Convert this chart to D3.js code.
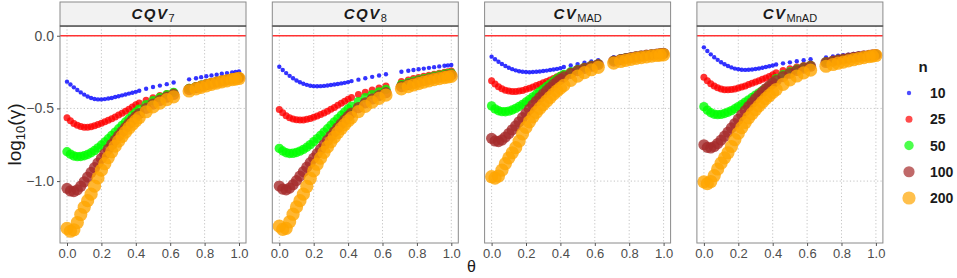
<!DOCTYPE html>
<html>
<head>
<meta charset="utf-8">
<script src="https://cdnjs.cloudflare.com/ajax/libs/d3/7.8.5/d3.min.js"></script>
<style>
  body { margin: 0; background: #fff; }
  svg text { font-family: "Liberation Sans", Arial, sans-serif; }
</style>
</head>
<body>
<div id="graphicContainer"></div>
<script>

// theta grid shared by every series
const thetas = [0.00, 0.02, 0.04, 0.06, 0.08, 0.10, 0.12, 0.14, 0.16, 0.18, 0.20, 0.22, 0.24, 0.26, 0.28, 0.30, 0.32, 0.34, 0.36, 0.38, 0.40,
  0.42, 0.46, 0.50, 0.54, 0.58, 0.62,
  0.71, 0.75, 0.78, 0.81, 0.84, 0.87, 0.90, 0.93, 0.96, 0.98, 1.00]

const sampleSizes = ["10", "25", "50", "100", "200"]
const pointColors = ["#0000FF", "#FF0000", "#00FF00", "#A52A2A", "#FFA500"]
const pointRadius = [2.2, 3.5, 4.7, 5.6, 6.6]

const xTicks = [0, 0.2, 0.4, 0.6, 0.8, 1.0]
const yTicks = [0, -0.5, -1.0]

// CQV7
const cqv7_10 = [-0.316, -0.335, -0.355, -0.373, -0.390, -0.405, -0.418, -0.428, -0.435, -0.438, -0.438, -0.436, -0.432, -0.428, -0.422, -0.416, -0.410, -0.404, -0.398, -0.392, -0.386,
  -0.378, -0.365, -0.353, -0.343, -0.333, -0.322,
  -0.300, -0.292, -0.285, -0.279, -0.273, -0.268, -0.262, -0.257, -0.252, -0.249, -0.245]
const cqv7_25 = [-0.565, -0.585, -0.603, -0.616, -0.625, -0.630, -0.630, -0.626, -0.619, -0.611, -0.602, -0.592, -0.582, -0.571, -0.559, -0.546, -0.533, -0.519, -0.505, -0.490, -0.475,
  -0.462, -0.443, -0.426, -0.411, -0.397, -0.384,
  -0.355, -0.343, -0.334, -0.325, -0.317, -0.309, -0.302, -0.295, -0.288, -0.284, -0.280]
const cqv7_50 = [-0.798, -0.815, -0.827, -0.832, -0.831, -0.826, -0.817, -0.805, -0.790, -0.772, -0.752, -0.731, -0.709, -0.686, -0.663, -0.640, -0.617, -0.594, -0.571, -0.548, -0.526,
  -0.505, -0.474, -0.447, -0.425, -0.406, -0.390,
  -0.362, -0.350, -0.341, -0.332, -0.323, -0.315, -0.307, -0.300, -0.293, -0.289, -0.285]
const cqv7_100 = [-1.050, -1.068, -1.072, -1.060, -1.035, -1.005, -0.972, -0.940, -0.908, -0.876, -0.844, -0.812, -0.780, -0.748, -0.718, -0.688, -0.660, -0.632, -0.605, -0.580, -0.556,
  -0.535, -0.500, -0.470, -0.445, -0.423, -0.404,
  -0.370, -0.357, -0.347, -0.337, -0.328, -0.319, -0.311, -0.303, -0.296, -0.292, -0.288]
const cqv7_200 = [-1.325, -1.345, -1.335, -1.285, -1.230, -1.180, -1.135, -1.090, -1.035, -0.978, -0.925, -0.880, -0.838, -0.798, -0.760, -0.725, -0.693, -0.663, -0.635, -0.609, -0.585,
  -0.563, -0.523, -0.490, -0.463, -0.440, -0.420,
  -0.380, -0.366, -0.355, -0.345, -0.335, -0.326, -0.318, -0.310, -0.302, -0.298, -0.294]

// CQV8
const cqv8_10 = [-0.213, -0.236, -0.257, -0.276, -0.293, -0.308, -0.320, -0.330, -0.338, -0.344, -0.347, -0.348, -0.347, -0.345, -0.342, -0.339, -0.336, -0.332, -0.328, -0.324, -0.319,
  -0.312, -0.302, -0.292, -0.283, -0.274, -0.265,
  -0.248, -0.241, -0.236, -0.231, -0.226, -0.221, -0.216, -0.211, -0.207, -0.204, -0.201]
const cqv8_25 = [-0.508, -0.530, -0.550, -0.564, -0.573, -0.578, -0.580, -0.579, -0.575, -0.569, -0.561, -0.552, -0.542, -0.531, -0.519, -0.506, -0.493, -0.479, -0.465, -0.451, -0.437,
  -0.425, -0.405, -0.388, -0.373, -0.359, -0.346,
  -0.315, -0.304, -0.295, -0.287, -0.279, -0.272, -0.265, -0.258, -0.251, -0.247, -0.243]
const cqv8_50 = [-0.775, -0.793, -0.805, -0.810, -0.809, -0.803, -0.794, -0.782, -0.767, -0.749, -0.729, -0.708, -0.686, -0.663, -0.640, -0.616, -0.593, -0.570, -0.547, -0.525, -0.503,
  -0.484, -0.453, -0.427, -0.405, -0.386, -0.369,
  -0.335, -0.323, -0.313, -0.304, -0.295, -0.287, -0.279, -0.272, -0.265, -0.261, -0.257]
const cqv8_100 = [-1.034, -1.055, -1.060, -1.048, -1.025, -0.997, -0.966, -0.935, -0.904, -0.873, -0.842, -0.811, -0.780, -0.749, -0.719, -0.690, -0.661, -0.633, -0.606, -0.580, -0.555,
  -0.532, -0.494, -0.462, -0.435, -0.412, -0.392,
  -0.350, -0.337, -0.327, -0.317, -0.308, -0.299, -0.291, -0.284, -0.277, -0.273, -0.269]
const cqv8_200 = [-1.310, -1.332, -1.325, -1.280, -1.228, -1.178, -1.135, -1.090, -1.037, -0.982, -0.930, -0.884, -0.842, -0.802, -0.765, -0.730, -0.697, -0.667, -0.638, -0.611, -0.586,
  -0.563, -0.522, -0.486, -0.457, -0.431, -0.408,
  -0.365, -0.350, -0.339, -0.329, -0.319, -0.310, -0.302, -0.295, -0.288, -0.284, -0.280]

// CV MAD
const cvmad_10 = [-0.144, -0.162, -0.179, -0.194, -0.208, -0.220, -0.230, -0.238, -0.244, -0.248, -0.250, -0.251, -0.250, -0.248, -0.246, -0.243, -0.240, -0.236, -0.232, -0.228, -0.223,
  -0.215, -0.205, -0.195, -0.186, -0.177, -0.168,
  -0.148, -0.141, -0.136, -0.131, -0.127, -0.123, -0.119, -0.116, -0.113, -0.111, -0.109]
const cvmad_25 = [-0.310, -0.332, -0.351, -0.365, -0.375, -0.381, -0.384, -0.384, -0.381, -0.376, -0.369, -0.361, -0.352, -0.343, -0.334, -0.324, -0.314, -0.304, -0.294, -0.283, -0.272,
  -0.261, -0.244, -0.229, -0.214, -0.200, -0.188,
  -0.163, -0.154, -0.148, -0.142, -0.137, -0.132, -0.128, -0.124, -0.120, -0.118, -0.116]
const cvmad_50 = [-0.483, -0.503, -0.516, -0.522, -0.523, -0.519, -0.511, -0.500, -0.487, -0.472, -0.456, -0.439, -0.421, -0.403, -0.385, -0.367, -0.349, -0.331, -0.313, -0.296, -0.280,
  -0.267, -0.248, -0.232, -0.218, -0.205, -0.194,
  -0.170, -0.160, -0.153, -0.147, -0.141, -0.136, -0.131, -0.127, -0.123, -0.121, -0.118]
const cvmad_100 = [-0.706, -0.724, -0.728, -0.717, -0.697, -0.673, -0.647, -0.620, -0.592, -0.563, -0.534, -0.505, -0.477, -0.451, -0.425, -0.401, -0.378, -0.356, -0.335, -0.316, -0.298,
  -0.283, -0.259, -0.240, -0.224, -0.210, -0.198,
  -0.174, -0.164, -0.157, -0.150, -0.144, -0.139, -0.134, -0.130, -0.126, -0.123, -0.121]
const cvmad_200 = [-0.970, -0.980, -0.965, -0.925, -0.880, -0.840, -0.805, -0.770, -0.725, -0.675, -0.630, -0.592, -0.558, -0.527, -0.500, -0.474, -0.449, -0.425, -0.402, -0.380, -0.360,
  -0.341, -0.307, -0.278, -0.254, -0.234, -0.217,
  -0.188, -0.177, -0.169, -0.162, -0.156, -0.150, -0.145, -0.140, -0.136, -0.133, -0.131]

// CV MnAD
const cvmnad_10 = [-0.080, -0.105, -0.128, -0.148, -0.166, -0.182, -0.196, -0.208, -0.218, -0.226, -0.231, -0.234, -0.235, -0.234, -0.232, -0.229, -0.225, -0.220, -0.215, -0.210, -0.205,
  -0.198, -0.190, -0.183, -0.176, -0.169, -0.162,
  -0.149, -0.143, -0.138, -0.134, -0.130, -0.126, -0.122, -0.119, -0.115, -0.113, -0.111]
const cvmnad_25 = [-0.286, -0.310, -0.330, -0.346, -0.358, -0.366, -0.371, -0.372, -0.370, -0.366, -0.360, -0.353, -0.345, -0.336, -0.327, -0.318, -0.309, -0.300, -0.291, -0.280, -0.268,
  -0.255, -0.240, -0.227, -0.215, -0.205, -0.196,
  -0.172, -0.164, -0.158, -0.152, -0.147, -0.142, -0.137, -0.133, -0.129, -0.127, -0.125]
const cvmnad_50 = [-0.488, -0.512, -0.530, -0.540, -0.543, -0.541, -0.535, -0.526, -0.515, -0.502, -0.488, -0.473, -0.457, -0.441, -0.425, -0.409, -0.393, -0.377, -0.362, -0.345, -0.322,
  -0.295, -0.268, -0.248, -0.231, -0.217, -0.205,
  -0.180, -0.171, -0.164, -0.158, -0.152, -0.147, -0.142, -0.138, -0.134, -0.131, -0.129]
const cvmnad_100 = [-0.750, -0.768, -0.772, -0.762, -0.742, -0.718, -0.691, -0.663, -0.634, -0.604, -0.574, -0.544, -0.515, -0.487, -0.460, -0.434, -0.410, -0.387, -0.365, -0.345, -0.326,
  -0.309, -0.281, -0.258, -0.239, -0.223, -0.210,
  -0.184, -0.174, -0.167, -0.160, -0.154, -0.148, -0.143, -0.139, -0.135, -0.132, -0.130]
const cvmnad_200 = [-1.005, -1.018, -1.003, -0.962, -0.917, -0.876, -0.840, -0.805, -0.762, -0.715, -0.671, -0.632, -0.597, -0.565, -0.536, -0.508, -0.482, -0.457, -0.433, -0.411, -0.390,
  -0.370, -0.334, -0.303, -0.277, -0.255, -0.237,
  -0.210, -0.198, -0.189, -0.181, -0.173, -0.165, -0.158, -0.151, -0.144, -0.140, -0.136]

const panels = [
  { main: "CQV", sub: "7", series: [cqv7_10, cqv7_25, cqv7_50, cqv7_100, cqv7_200] },
  { main: "CQV", sub: "8", series: [cqv8_10, cqv8_25, cqv8_50, cqv8_100, cqv8_200] },
  { main: "CV", sub: "MAD", series: [cvmad_10, cvmad_25, cvmad_50, cvmad_100, cvmad_200] },
  { main: "CV", sub: "MnAD", series: [cvmnad_10, cvmnad_25, cvmnad_50, cvmnad_100, cvmnad_200] }
]

const width = 957
const height = 278
const marginleft = 60
const panelWidth = 186
const panelGap = 26.3
const stripTop = 2
const stripHeight = 24
const paneltop = stripTop + stripHeight
const panelbottom = 243

const svg = d3.select("#graphicContainer").append("svg")
  .attr("width", width)
  .attr("height", height)

const x = d3.scaleLinear()
  .domain([-0.0407, 1.0407])
  .range([0, panelWidth])

const y = d3.scaleLinear()
  .domain([-1.426, 0.067])
  .range([panelbottom, paneltop])

const gridColor = "#bdbdbd"

panels.forEach((p, i) => {

  const left = marginleft + i * (panelWidth + panelGap)

  const g = svg.append("g")
    .attr("transform", `translate(${left},0)`)

  // grid
  g.selectAll(".vgrid")
    .data(xTicks)
    .enter()
    .append("line")
    .attr("x1", d => x(d))
    .attr("x2", d => x(d))
    .attr("y1", paneltop)
    .attr("y2", panelbottom)
    .attr("stroke", gridColor)
    .attr("stroke-width", 0.9)
    .attr("stroke-dasharray", "1.2,2.2")

  g.selectAll(".hgrid")
    .data(yTicks)
    .enter()
    .append("line")
    .attr("x1", 0)
    .attr("x2", panelWidth)
    .attr("y1", d => y(d))
    .attr("y2", d => y(d))
    .attr("stroke", gridColor)
    .attr("stroke-width", 0.9)
    .attr("stroke-dasharray", "1.2,2.2")

  // reference line at 0
  g.append("line")
    .attr("x1", 0)
    .attr("x2", panelWidth)
    .attr("y1", y(0))
    .attr("y2", y(0))
    .attr("stroke", "#FF3333")
    .attr("stroke-width", 1.5)

  // points, smallest n first so the large ones sit on top
  p.series.forEach((vals, k) => {

    g.append("g")
      .selectAll("circle")
      .data(thetas.map((t, j) => ({ t, v: vals[j] })))
      .enter()
      .append("circle")
      .attr("cx", d => x(d.t))
      .attr("cy", d => y(d.v))
      .attr("r", pointRadius[k])
      .attr("fill", pointColors[k])
      .attr("fill-opacity", 0.8)

  })

  // panel border
  g.append("rect")
    .attr("x", 0)
    .attr("y", paneltop)
    .attr("width", panelWidth)
    .attr("height", panelbottom - paneltop)
    .attr("fill", "none")
    .attr("stroke", "#8a8a8a")
    .attr("stroke-width", 1)

  // strip
  g.append("rect")
    .attr("x", 0)
    .attr("y", stripTop)
    .attr("width", panelWidth)
    .attr("height", stripHeight)
    .attr("fill", "#f2f2f2")
    .attr("stroke", "#8a8a8a")
    .attr("stroke-width", 1)

  g.append("line")
    .attr("x1", 0)
    .attr("x2", panelWidth)
    .attr("y1", paneltop)
    .attr("y2", paneltop)
    .attr("stroke", "#333")
    .attr("stroke-width", 1.2)

  const title = g.append("text")
    .attr("x", panelWidth / 2)
    .attr("y", 19)
    .attr("text-anchor", "middle")
    .attr("fill", "#1a1a1a")

  title.append("tspan")
    .attr("font-size", 15)
    .attr("font-weight", "bold")
    .attr("font-style", "italic")
    .attr("letter-spacing", 1.5)
    .text(p.main)

  title.append("tspan")
    .attr("font-size", 11)
    .attr("dy", 3)
    .text(p.sub)

  // x axis
  const xAxis = g.append("g")
    .attr("transform", `translate(0,${panelbottom})`)
    .call(d3.axisBottom(x).tickValues(xTicks).tickFormat(d3.format(".1f")).tickSize(3).tickPadding(3))

  xAxis.select(".domain").remove()
  xAxis.selectAll("line").attr("stroke", "#555")
  xAxis.selectAll("text")
    .attr("font-size", 13)
    .attr("fill", "#4d4d4d")

  if (i == 0) {

    const yAxis = g.append("g")
      .call(d3.axisLeft(y).tickValues(yTicks).tickFormat(d3.format(".1f")).tickSize(3).tickPadding(3))

    yAxis.select(".domain").remove()
    yAxis.selectAll("line").attr("stroke", "#555")
    yAxis.selectAll("text")
      .attr("font-size", 14)
      .attr("fill", "#4d4d4d")
      .text(d => d == 0 ? "0.0" : d3.format(".1f")(d).replace("-", "\u2212"))

  }

})

// axis titles
const xMid = marginleft + (4 * panelWidth + 3 * panelGap) / 2

svg.append("text")
  .attr("x", xMid)
  .attr("y", 272)
  .attr("text-anchor", "middle")
  .attr("font-size", 16)
  .attr("fill", "#1a1a1a")
  .text("θ")

const yLab = svg.append("text")
  .attr("transform", `translate(21,${(paneltop + panelbottom) / 2}) rotate(-90)`)
  .attr("text-anchor", "middle")
  .attr("font-size", 19)
  .attr("fill", "#1a1a1a")

yLab.append("tspan").text("log")
yLab.append("tspan").attr("font-size", 13).attr("dy", 4).text("10")
yLab.append("tspan").attr("dy", -4).text("(γ)")

// legend
const legend = svg.append("g")
  .attr("transform", "translate(909,0)")

legend.append("text")
  .attr("x", 14)
  .attr("y", 72)
  .attr("text-anchor", "middle")
  .attr("font-size", 15)
  .attr("font-weight", "bold")
  .attr("fill", "#1a1a1a")
  .text("n")

const legendY = d3.scalePoint()
  .domain(sampleSizes)
  .range([93, 198])

sampleSizes.forEach((s, k) => {

  legend.append("circle")
    .attr("cx", 0)
    .attr("cy", legendY(s))
    .attr("r", pointRadius[k])
    .attr("fill", pointColors[k])
    .attr("fill-opacity", 0.7)

  legend.append("text")
    .attr("x", 21)
    .attr("y", legendY(s) + 5)
    .attr("font-size", 14)
    .attr("font-weight", "bold")
    .attr("fill", "#1a1a1a")
    .text(s)

})

</script>
</body>
</html>
